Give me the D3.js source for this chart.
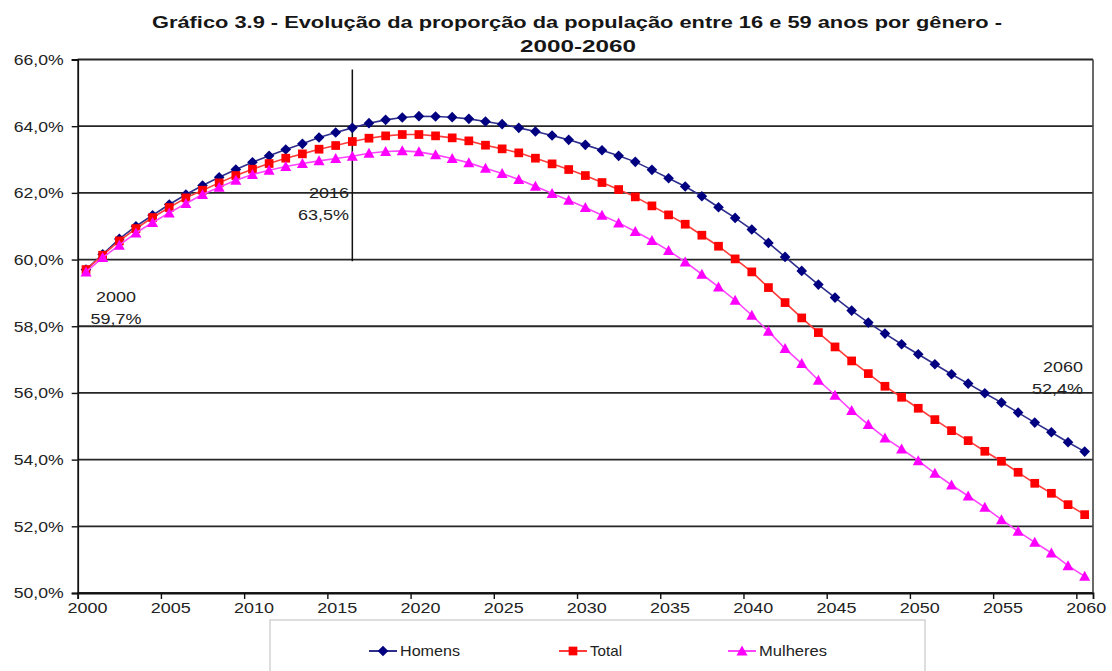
<!DOCTYPE html>
<html>
<head>
<meta charset="utf-8">
<script src="https://cdn.jsdelivr.net/npm/d3@7"></script>
<style>
  body { margin: 0; background: #fff; }
  svg { display: block; font-family: "Liberation Sans", Arial, sans-serif; }
</style>
</head>
<body>
<div id="graph_here"></div>
<script>
// anos 2000..2060
const years = d3.range(2000, 2061);

const homens = [59.70, 60.16, 60.62, 61.00, 61.33, 61.65, 61.95, 62.22, 62.47, 62.70,
  62.92, 63.11, 63.30, 63.47, 63.66, 63.81, 63.95, 64.09, 64.19, 64.26,
  64.30, 64.29, 64.27, 64.22, 64.14, 64.06, 63.95, 63.84, 63.72, 63.59,
  63.44, 63.28, 63.11, 62.93, 62.69, 62.44, 62.19, 61.90, 61.57, 61.25,
  60.90, 60.50, 60.08, 59.66, 59.25, 58.86, 58.47, 58.11, 57.78, 57.46,
  57.16, 56.86, 56.56, 56.28, 55.99, 55.71, 55.41, 55.11, 54.82, 54.52, 54.24];

const total = [59.70, 60.13, 60.56, 60.93, 61.26, 61.56, 61.85, 62.08, 62.30, 62.52,
  62.71, 62.88, 63.04, 63.17, 63.31, 63.42, 63.54, 63.64, 63.71, 63.75,
  63.75, 63.71, 63.65, 63.56, 63.43, 63.32, 63.20, 63.04, 62.87, 62.70,
  62.52, 62.31, 62.10, 61.88, 61.61, 61.34, 61.06, 60.73, 60.40, 60.02,
  59.63, 59.16, 58.71, 58.25, 57.81, 57.38, 56.96, 56.58, 56.20, 55.87,
  55.54, 55.20, 54.87, 54.57, 54.25, 53.95, 53.62, 53.29, 52.99, 52.65, 52.35];

const mulheres = [59.63, 60.06, 60.43, 60.80, 61.11, 61.40, 61.68, 61.95, 62.17, 62.38,
  62.55, 62.68, 62.79, 62.88, 62.96, 63.03, 63.10, 63.19, 63.24, 63.26,
  63.23, 63.14, 63.03, 62.90, 62.74, 62.58, 62.40, 62.20, 61.98, 61.78,
  61.56, 61.33, 61.10, 60.84, 60.57, 60.27, 59.93, 59.56, 59.18, 58.78,
  58.33, 57.85, 57.33, 56.88, 56.38, 55.93, 55.47, 55.05, 54.65, 54.32,
  53.97, 53.59, 53.24, 52.91, 52.57, 52.20, 51.85, 51.52, 51.20, 50.82, 50.50];

const yTicks = [50, 52, 54, 56, 58, 60, 62, 64, 66];
const xLabelYears = d3.range(2000, 2061, 5);
const seriesNames = ["Homens", "Total", "Mulheres"];

// anotações
const notes = [
  {year: 2000, l1: "2000", l2: "59,7%"},
  {year: 2016, l1: "2016", l2: "63,5%"},
  {year: 2060, l1: "2060", l2: "52,4%"}
];
const markYear = 2016, markTop = 65.7, markBottom = 59.95;

function drawline(){
    const width = 1112, height = 671;
    const left = 77.7, right = 1093, top = 59.5, bottom = 593;

    const svg = d3.select('#graph_here')
        .append('svg')
        .attr('width', width)
        .attr('height', height);

    const x = d3.scaleLinear().domain([1999.5, 2060.5]).range([left, right]);
    const y = d3.scaleLinear().domain([50, 66]).range([bottom, top]);
    const half = (x(2001) - x(2000)) / 2;

    // titulo
    svg.append('text')
        .attr('x', 577).attr('y', 28)
        .attr('text-anchor', 'middle')
        .attr('font-size', 16).attr('font-weight', 'bold')
        .attr('textLength', 850).attr('lengthAdjust', 'spacingAndGlyphs')
        .attr('fill', '#161616')
        .text('Gráfico 3.9  - Evolução da proporção da população entre 16 e 59 anos por gênero -');
    svg.append('text')
        .attr('x', 578).attr('y', 52)
        .attr('text-anchor', 'middle')
        .attr('font-size', 16).attr('font-weight', 'bold')
        .attr('textLength', 116).attr('lengthAdjust', 'spacingAndGlyphs')
        .attr('fill', '#161616')
        .text('2000-2060');

    // gridlines
    svg.append('g').selectAll('line')
        .data(yTicks)
        .enter().append('line')
        .attr('x1', left).attr('x2', right)
        .attr('y1', d => y(d)).attr('y2', d => y(d))
        .attr('stroke', '#262626').attr('stroke-width', 1.8);

    // borda direita
    svg.append('line')
        .attr('x1', right).attr('x2', right)
        .attr('y1', top).attr('y2', bottom)
        .attr('stroke', '#444').attr('stroke-width', 1.6);

    // eixo y
    const yAxis = d3.axisLeft(y)
        .tickValues(yTicks)
        .tickSize(6)
        .tickFormat(d => d.toFixed(1).replace('.', ',') + '%');
    const gy = svg.append('g')
        .attr('transform', 'translate(' + left + ',0)')
        .call(yAxis);
    gy.select('.domain').attr('stroke', '#111').attr('stroke-width', 1.8);
    gy.selectAll('.tick line').attr('stroke', '#111').attr('stroke-width', 1.4);
    gy.selectAll('.tick text')
        .attr('x', -14)
        .attr('font-size', 15)
        .attr('fill', '#222')
        .attr('textLength', 50).attr('lengthAdjust', 'spacingAndGlyphs');

    // eixo x: ticks nas bordas das categorias, rótulos no centro
    const xAxis = d3.axisBottom(x)
        .tickValues(xLabelYears.map(d => d - 0.5))
        .tickSize(6)
        .tickFormat(d => d + 0.5);
    const gx = svg.append('g')
        .attr('transform', 'translate(0,' + bottom + ')')
        .call(xAxis);
    gx.select('.domain').attr('stroke', '#111').attr('stroke-width', 1.8);
    gx.selectAll('.tick line').attr('stroke', '#111').attr('stroke-width', 1.4);
    gx.selectAll('.tick text')
        .attr('x', half + 1)
        .attr('y', 9)
        .attr('font-size', 15)
        .attr('fill', '#222')
        .attr('textLength', 40).attr('lengthAdjust', 'spacingAndGlyphs');

    // linha vertical 2016
    svg.append('line')
        .attr('x1', x(markYear)).attr('x2', x(markYear))
        .attr('y1', y(markTop)).attr('y2', y(markBottom))
        .attr('stroke', '#111').attr('stroke-width', 1.5);

    const series = [
        {name: seriesNames[0], values: homens, line: '#2e2e8c', color: '#000080', shape: 'diamond', tw: 60},
        {name: seriesNames[1], values: total, line: '#ff3b3b', color: '#ff0000', shape: 'square', tw: 32},
        {name: seriesNames[2], values: mulheres, line: '#ff44ff', color: '#ff00ff', shape: 'triangle', tw: 68}
    ];

    const line = d3.line()
        .x((d, i) => x(years[i]))
        .y(d => y(d));

    function marker(shape){
        if (shape === 'diamond') return d3.symbol().type(d3.symbolDiamond2).size(72)();
        if (shape === 'square') return d3.symbol().type(d3.symbolSquare).size(76)();
        return 'M0,-5.5L5.5,4.5L-5.5,4.5Z';
    }

    const lines = svg.selectAll('.serie')
        .data(series)
        .enter().append('g')
        .attr('class', 'serie');

    lines.append('path')
        .attr('d', d => line(d.values))
        .attr('fill', 'none')
        .attr('stroke', d => d.line)
        .attr('stroke-width', 1.6);

    lines.each(function(s){
        d3.select(this).selectAll('path.pt')
            .data(s.values)
            .enter().append('path')
            .attr('class', 'pt')
            .attr('d', marker(s.shape))
            .attr('transform', (d, i) => 'translate(' + x(years[i]) + ',' + y(d) + ')')
            .attr('fill', s.color);
    });

    // anotações
    const notePos = {
        2000: {x: 116, y1: 302, y2: 324, anchor: 'middle'},
        2016: {x: 349, y1: 198, y2: 220, anchor: 'end'},
        2060: {x: 1083, y1: 372, y2: 394, anchor: 'end'}
    };
    notes.forEach(n => {
        const p = notePos[n.year];
        svg.append('text')
            .attr('x', p.x).attr('y', p.y1)
            .attr('text-anchor', p.anchor)
            .attr('font-size', 15).attr('fill', '#222')
            .attr('textLength', 40).attr('lengthAdjust', 'spacingAndGlyphs')
            .text(n.l1);
        svg.append('text')
            .attr('x', p.x).attr('y', p.y2)
            .attr('text-anchor', p.anchor)
            .attr('font-size', 15).attr('fill', '#222')
            .attr('textLength', 51).attr('lengthAdjust', 'spacingAndGlyphs')
            .text(n.l2);
    });

    // legenda
    svg.append('rect')
        .attr('x', 270).attr('y', 620)
        .attr('width', 655).attr('height', 60)
        .attr('fill', '#fff')
        .attr('stroke', '#c8c8c8').attr('stroke-width', 1.2);

    const legendX = [383, 573, 742];
    const legend = svg.selectAll('.leg')
        .data(series)
        .enter().append('g')
        .attr('class', 'leg')
        .attr('transform', (d, i) => 'translate(' + legendX[i] + ',651)');
    legend.append('line')
        .attr('x1', -14).attr('x2', 14)
        .attr('stroke', d => d.line).attr('stroke-width', 2);
    legend.append('path')
        .attr('d', d => marker(d.shape))
        .attr('fill', d => d.color);
    legend.append('text')
        .attr('x', 17).attr('y', 5)
        .attr('font-size', 15).attr('fill', '#222')
        .attr('textLength', d => d.tw).attr('lengthAdjust', 'spacingAndGlyphs')
        .text(d => d.name);
}

window.addEventListener('load', drawline);
</script>
</body>
</html>
